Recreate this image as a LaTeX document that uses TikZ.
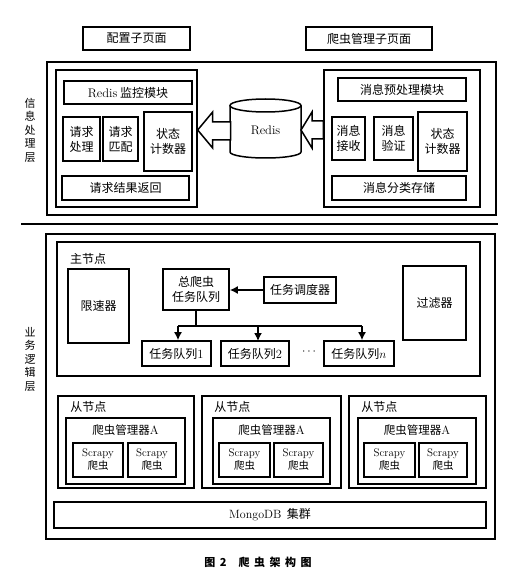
\documentclass[tikz,border=0pt]{standalone}
\usepackage{fontspec}
\newfontfamily\cjk{Noto Sans CJK SC}
\usetikzlibrary{arrows.meta}
\newcommand\lat[1]{{\rmfamily #1}}
\newcommand\gap{\hspace{4.5pt}}
\tikzset{
  x=1pt, y=-1pt,
  wh/.style 2 args={minimum width=#1pt, minimum height=#2pt},
  box/.style={draw, line width=1.6pt, inner sep=0pt, align=center, fill=white,
    font=\cjk\fontsize{12}{15}\selectfont},
  sbox/.style={box, font=\cjk\fontsize{10.5}{13}\selectfont},
  frame/.style={draw, line width=1.3pt, inner sep=0pt},
  lbl/.style={inner sep=0pt, anchor=west, font=\cjk\fontsize{12}{14}\selectfont},
  side/.style={inner sep=0pt, align=center, font=\cjk\fontsize{11}{13.5}\selectfont},
  conn/.style={line width=1.5pt},
  arr/.style={line width=1.5pt, -{Latex[length=8pt,width=8pt]}},
  hollow/.style={draw, line width=1.5pt, fill=white, line join=miter},
}
\begin{document}
\begin{tikzpicture}
\useasboundingbox (0,0) rectangle (516,580);
\fill[white] (0,0) rectangle (516,580);

% top pages
\node[box, wh={107}{23}] (cfg) at (136.5,38.5) {配置子页面};
\node[box, wh={126}{23}] (mgrpage) at (369,38.5) {爬虫管理子页面};

% information layer
\node[frame, wh={449}{153}] (info) at (271.5,138.5) {};
\node[frame, wh={141}{137}] (leftIn) at (126.5,138.5) {};
\node[box, wh={128}{23}] (redisMon) at (128,92.5) {\lat{\fontsize{12.5}{15}\selectfont Redis} 监控模块};
\node[box, wh={37}{44}] (reqProc) at (81.5,139) {请求\\处理};
\node[box, wh={35}{44}] (reqMatch) at (120.5,139) {请求\\匹配};
\node[box, wh={48}{59}] (stateL) at (168,141.5) {状态\\计数器};
\node[box, wh={127}{24}] (reqRet) at (125.5,188) {请求结果返回};

\node[frame, wh={156}{137}] (rightIn) at (402,138.5) {};
\node[box, wh={128}{23}] (msgPre) at (402,89.5) {消息预处理模块};
\node[box, wh={33}{43}] (msgRecv) at (348.5,138.5) {消息\\接收};
\node[box, wh={39}{43}] (msgVal) at (393.5,138.5) {消息\\验证};
\node[box, wh={49}{59}] (stateR) at (442.5,141.5) {状态\\计数器};
\node[box, wh={134}{24}] (msgStore) at (399,188) {消息分类存储};

% Redis cylinder
\draw[line width=1.5pt, fill=white] (230,105.5) -- (230,152)
  arc[start angle=180, end angle=0, x radius=35.5, y radius=6] -- (301,105.5);
\draw[line width=1.5pt, fill=white] (265.5,105.5) ellipse [x radius=35.5, y radius=6.5];
\node[inner sep=0pt, font=\fontsize{12.5}{14}\selectfont] (redis) at (265.5,130) {Redis};

% hollow arrows
\path[hollow] (leftIn.east |- redis.center) -- ++(15,-18) -- ++(0,10) -- ++(18,0)
  -- ++(0,18) -- ++(-18,0) -- ++(0,8) -- cycle;
\path[hollow] (301,130) -- ++(11,-18) -- ++(0,9) -- (rightIn.west |- 0,121)
  -- ++(0,18) -- (312,139) -- ++(0,9) -- cycle;

\draw[line width=1.3pt] (21,224) -- (498,224);

\node[side] (infoLbl) at (30,130) {信\\息\\处\\理\\层};
\node[side] (bizLbl) at (30,359) {业\\务\\逻\\辑\\层};

% business layer
\node[frame, wh={449}{305}] (biz) at (270.5,386.5) {};
\node[box, wh={423}{134}] (master) at (268.5,309) {};
\node[lbl] (masterLbl) at (70,259) {主节点};
\node[box, wh={61}{74}] (limiter) at (98.5,306) {限速器};
\node[box, wh={66}{41}] (totalQ) at (196,289.5) {总爬虫\\任务队列};
\node[box, wh={72}{26}] (sched) at (300,290) {任务调度器};
\node[box, wh={63}{74}] (filter) at (434.5,303) {过滤器};
\node[box, wh={69}{25}] (q1) at (176.5,353.5) {任务队列\lat{\fontsize{12.5}{14}\selectfont 1}};
\node[box, wh={68}{25}] (q2) at (255,353.5) {任务队列\lat{\fontsize{12.5}{14}\selectfont 2}};
\node[inner sep=0pt, font=\fontsize{12}{14}\selectfont] (dots) at (309,352) {$\cdots$};
\node[box, wh={70}{25}] (qn) at (359,353.5) {任务队列$n$};

\draw[arr] (sched.west) -- (totalQ.east |- sched.west);
\coordinate (busL) at (178,326);
\coordinate (busR) at (362,326);
\draw[conn] (totalQ.south) -- (totalQ.south |- busL);
\draw[conn] (busL) -- (busR);
\draw[arr] (busL) -- (busL |- q1.north);
\draw[arr] (258,326) -- (258,341);
\draw[arr] (busR) -- (busR |- qn.north);

% slave nodes
\foreach \i/\cx/\w/\mx/\mw/\ax/\aw/\bx/\bw in
  {1/126/136/125.5/119/98/50/152/48,
   2/271.5/139/271.5/117/244.5/51/298.5/49,
   3/417.5/137/417/118/389.5/51/443/48}{
  \node[box, wh={\w}{92}] (slave\i) at (\cx,442) {};
  \node[lbl] (slaveLbl\i) at ([xshift=13pt]slave\i.west |- 0,407) {从节点};
  \node[box, wh={\mw}{66}] (mgr\i) at (\mx,451) {};
  \node[inner sep=0pt, font=\cjk\fontsize{11.5}{14}\selectfont] (mgrLbl\i) at (\mx,430) {爬虫管理器\lat{\fontsize{12}{14}\selectfont A}};
  \node[sbox, wh={\aw}{34}] (sa\i) at (\ax,460) {\lat{\fontsize{11}{13}\selectfont Scrapy}\\爬虫};
  \node[sbox, wh={\bw}{34}] (sb\i) at (\bx,460) {\lat{\fontsize{11}{13}\selectfont Scrapy}\\爬虫};
}

\node[box, wh={432}{26}] (mongo) at (270,515) {\lat{MongoDB}\ \ 集群};

\node[inner sep=0pt, font=\cjk\bfseries\fontsize{11}{13}\selectfont] (caption) at (258,562)
  {图\gap 2\hspace{12pt}爬\gap 虫\gap 架\gap 构\gap 图};
\end{tikzpicture}
\end{document}
